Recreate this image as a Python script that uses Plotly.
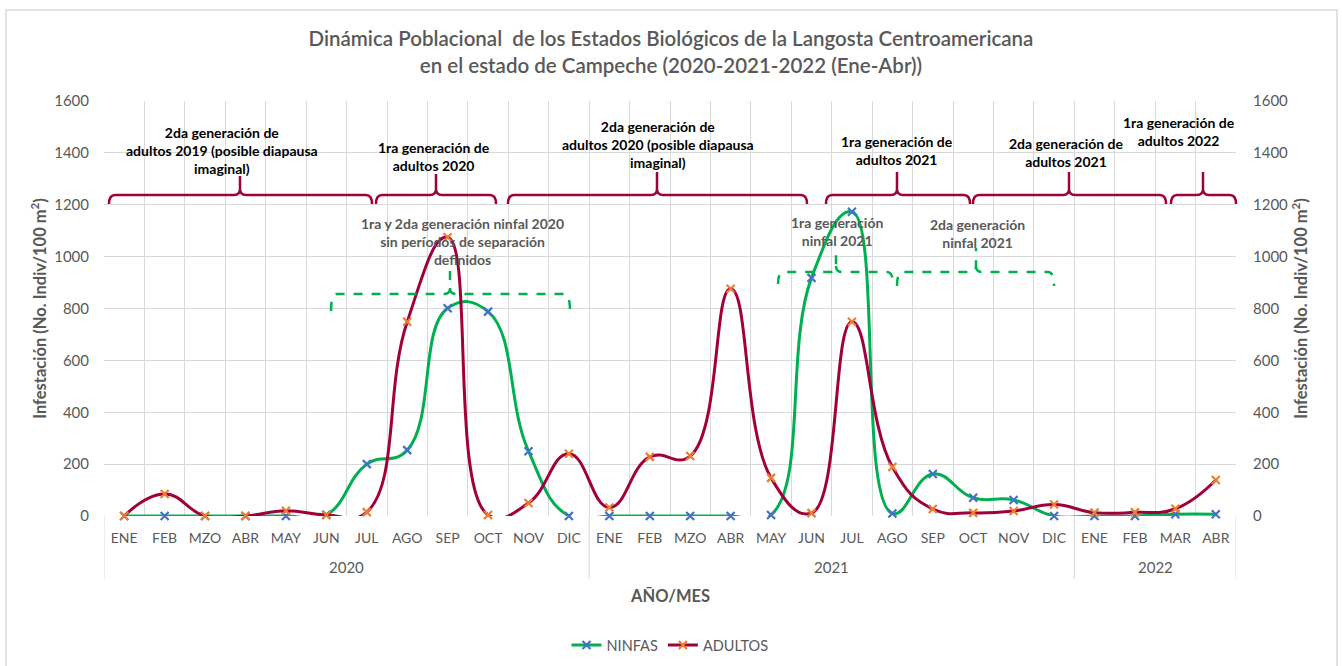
import plotly.graph_objects as go

# ---------------- data ----------------
years = ["2020"] * 12 + ["2021"] * 12 + ["2022"] * 4
months = (["ENE", "FEB", "MZO", "ABR", "MAY", "JUN", "JUL", "AGO", "SEP", "OCT", "NOV", "DIC"] * 2
          + ["ENE", "FEB", "MAR", "ABR"])
ninfas = [0, 0, 0, 0, 0, 5, 200, 254, 801, 788, 250, 0,
          0, 0, 0, 0, 4, 918, 1173, 10, 162, 70, 62, 0,
          0, 0, 7, 7]
adultos = [0, 85, 0, 0, 20, 4, 15, 749, 1075, 4, 50, 240,
           33, 228, 231, 876, 147, 11, 749, 189, 27, 12, 19, 44,
           13, 14, 28, 139]

y_ticks = [0, 200, 400, 600, 800, 1000, 1200, 1400, 1600]

# category positions
xpos = list(range(len(months)))
year_names = []
for yv in years:
    if yv not in year_names:
        year_names.append(yv)
year_first = [years.index(yv) for yv in year_names]
year_last = [len(years) - 1 - years[::-1].index(yv) for yv in year_names]

# ---------------- geometry helpers (annotation placement) ----------------
W, H = 1342, 666
L, R, T, B = 104, 1236, 101, 516


def px(x):
    return (x - L) / (R - L)


def py(y):
    return (B - y) / (B - T)


def brace(x0, x1, xc, yend, yh, ytop, r=6):
    pts = [
        f"M {px(x0)},{py(yend)}",
        f"Q {px(x0)},{py(yh)} {px(x0 + r)},{py(yh)}",
        f"L {px(xc - r)},{py(yh)}",
        f"Q {px(xc)},{py(yh)} {px(xc)},{py(yh - r)}",
        f"L {px(xc)},{py(ytop)}",
        f"M {px(xc)},{py(yh - r)}",
        f"Q {px(xc)},{py(yh)} {px(xc + r)},{py(yh)}",
        f"L {px(x1 - r)},{py(yh)}",
        f"Q {px(x1)},{py(yh)} {px(x1)},{py(yend)}",
    ]
    return " ".join(pts)


GRAY = "#595959"
GRID = "#D9D9D9"
GREEN = "#00B050"
MAROON = "#A0003C"
FONT = "Lato"
SMOOTH = 1.3

fig = go.Figure()
fig.add_trace(go.Scatter(
    x=xpos, y=ninfas, name="NINFAS", mode="lines+markers",
    line=dict(color=GREEN, width=3, shape="spline", smoothing=SMOOTH),
    marker=dict(symbol="x-thin-open", size=8, color="#4472C4", line=dict(width=2.2, color="#4472C4")),
    cliponaxis=False,
))
fig.add_trace(go.Scatter(
    x=xpos, y=adultos, name="ADULTOS", mode="lines+markers", yaxis="y2",
    line=dict(color=MAROON, width=3, shape="spline", smoothing=SMOOTH),
    marker=dict(symbol="x-thin-open", size=8, color="#ED7D31", line=dict(width=2.2, color="#ED7D31")),
    cliponaxis=False,
))

shapes = []
# outer frame
shapes.append(dict(type="rect", xref="paper", yref="paper",
                   x0=px(6), x1=px(1337), y0=py(672), y1=py(10),
                   line=dict(color=GRID, width=1.5), fillcolor="rgba(0,0,0,0)", layer="below"))

# year dividers below the month labels
bounds = [year_first[0] - 0.5] + [l + 0.5 for l in year_last]
for bx in bounds:
    shapes.append(dict(type="line", xref="x", yref="paper", x0=bx, x1=bx, y0=0, y1=py(579),
                       line=dict(color=GRID, width=1), layer="below"))

maroon_braces = [
    (109, 372, 240, 204, 195, 176),
    (376, 496, 436, 204, 195, 174),
    (508, 807, 657, 204, 195, 172),
    (826, 970, 897, 204, 195, 172),
    (973, 1166, 1069, 204, 195, 172),
    (1171, 1236, 1203, 204, 195, 172),
]
for b in maroon_braces:
    shapes.append(dict(type="path", xref="paper", yref="paper", path=brace(*b),
                       line=dict(color=MAROON, width=2.5)))

green_braces = [
    (331, 570, 450, 311, 294, 266),
    (778, 893, 836, 284, 272, 250),
    (897, 1054, 976, 286, 272, 248),
]
for b in green_braces:
    shapes.append(dict(type="path", xref="paper", yref="paper", path=brace(*b),
                       line=dict(color=GREEN, width=2.5, dash="dash")))

annotations = []
maroon_texts = [
    ("2da generación de<br>adultos 2019 (posible diapausa<br>imaginal)", 222, 150),
    ("1ra generación de<br>adultos 2020", 434, 156),
    ("2da generación de<br>adultos 2020 (posible diapausa<br>imaginal)", 658, 144),
    ("1ra generación de<br>adultos 2021", 897, 150),
    ("2da generación de<br>adultos 2021", 1066, 152),
    ("1ra generación de<br>adultos 2022", 1179, 131),
]
for t, x, y in maroon_texts:
    annotations.append(dict(text=f"<b>{t}</b>", x=px(x), y=py(y), xref="paper", yref="paper",
                            showarrow=False, font=dict(family=FONT, size=14, color="#000000"),
                            align="center", xanchor="center", yanchor="middle"))
green_texts = [
    ("1ra y 2da generación ninfal 2020<br>sin períodos de separación<br>definidos", 462, 241),
    ("1ra generación<br>ninfal 2021", 837, 231),
    ("2da generación<br>ninfal 2021", 977, 233),
]
for t, x, y in green_texts:
    annotations.append(dict(text=f"<b>{t}</b>", x=px(x), y=py(y), xref="paper", yref="paper",
                            showarrow=False, font=dict(family=FONT, size=14, color=GRAY),
                            align="center", xanchor="center", yanchor="middle"))

# year labels
for name, f, l in zip(year_names, year_first, year_last):
    annotations.append(dict(text=name, x=(f + l) / 2, y=py(567), xref="x", yref="paper",
                            showarrow=False, font=dict(family=FONT, size=15, color=GRAY),
                            xanchor="center", yanchor="middle"))

annotations.append(dict(text="<b>AÑO/MES</b>", x=0.5, y=py(596), xref="paper", yref="paper",
                        showarrow=False, font=dict(family=FONT, size=16.5, color=GRAY),
                        xanchor="center", yanchor="middle"))

ytitle = "<b>Infestación (No. Indiv/100 m<sup>2</sup>)</b>"

fig.update_layout(
    width=W, height=H,
    margin=dict(l=L, r=W - R, t=T, b=H - B, autoexpand=False),
    paper_bgcolor="white", plot_bgcolor="white",
    font=dict(family=FONT, color=GRAY),
    title=dict(text="Dinámica Poblacional  de los Estados Biológicos de la Langosta Centroamericana<br>"
                    "en el estado de Campeche (2020-2021-2022 (Ene-Abr))",
               x=0.5, xanchor="center", y=(H - 46) / H, yanchor="middle",
               font=dict(family=FONT, size=20.5, color=GRAY, weight=600)),
    xaxis=dict(range=[-0.5, len(months) - 0.5], tickmode="array", tickvals=xpos, ticktext=months,
               showgrid=False, ticks="", tickangle=0,
               minor=dict(tick0=0.5, dtick=1, showgrid=True, gridcolor=GRID, gridwidth=1, ticks=""),
               tickfont=dict(family=FONT, size=14, color=GRAY), ticklabelstandoff=12,
               showline=False, zeroline=False, fixedrange=True),
    yaxis=dict(range=[0, 1600], tickvals=y_ticks, gridcolor=GRID, gridwidth=1,
               zeroline=False, showline=False, ticks="", ticklabelstandoff=14,
               tickfont=dict(family=FONT, size=15, color=GRAY),
               title=dict(text=ytitle, font=dict(family=FONT, size=16.5, color=GRAY), standoff=3)),
    yaxis2=dict(range=[0, 1600], tickvals=y_ticks, overlaying="y", side="right", showgrid=False,
                zeroline=False, showline=False, ticks="", ticklabelstandoff=16,
                tickfont=dict(family=FONT, size=15, color=GRAY),
                title=dict(text=ytitle, font=dict(family=FONT, size=16.5, color=GRAY), standoff=8)),
    legend=dict(orientation="h", x=0.5, xanchor="center", y=py(645), yanchor="middle",
                font=dict(family=FONT, size=14.5, color=GRAY), bgcolor="rgba(0,0,0,0)"),
    shapes=shapes,
    annotations=annotations,
)

fig.write_html("out.html", config={"displayModeBar": False},
               post_script="document.body.style.margin='0';document.body.style.overflow='hidden';")
